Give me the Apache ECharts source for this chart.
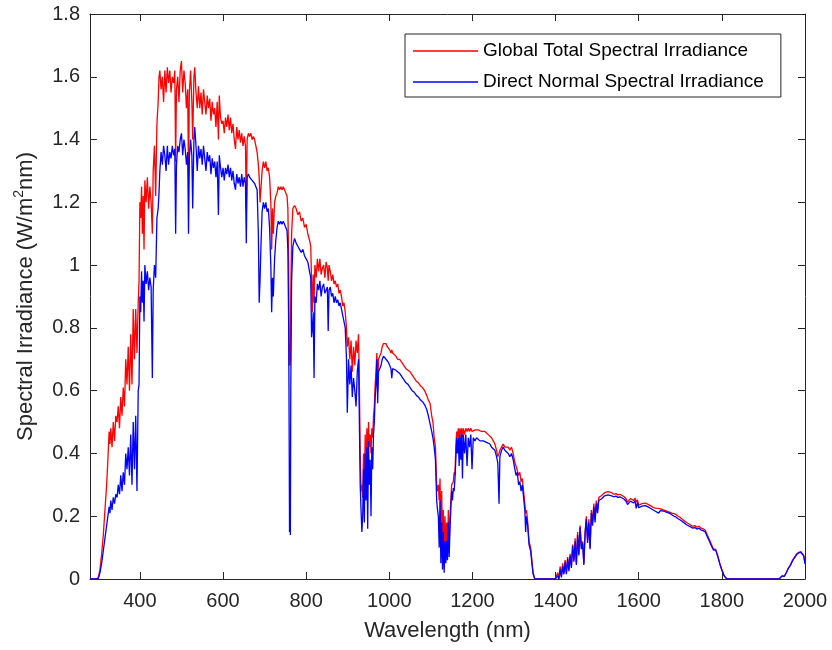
<!DOCTYPE html>
<html>
<head>
<meta charset="utf-8">
<script src="https://cdn.jsdelivr.net/npm/echarts@6/dist/echarts.min.js"></script>
<style>html,body{margin:0;padding:0;background:#fff}#c{width:832px;height:650px}</style>
</head>
<body>
<div id="c"></div>
<script>
// Wavelength (nm)
const wavelengths = [
280,290,295,300,304,308,312,316,320,323,
326,328,330,333,336,339,342,345,348,351,
354,357,360,363,366,369,372,375,378,381,
384,387,390,393,396,398,400,402,404,406,
408,410,412,415,418,421,424,427,430,432,
435,438,441,444,446,448,451,454,457,460,
463,466,469,472,475,478,481,484,486,488,
491,494,497,500,503,506,509,512,515,517,
519,522,525,527,530,532,535,538,541,544,
547,550,553,556,559,562,565,568,571,574,
577,580,583,586,589,591,594,597,600,603,
606,609,612,615,618,621,624,627,630,633,
636,639,642,645,648,651,654,656,658,661,
664,667,670,673,676,679,682,685,687,689,
691,694,697,700,703,706,709,712,715,717,
719,721,724,727,730,733,736,739,742,745,
748,751,754,756,758,759,760,761,762,763,
765,768,772,776,780,784,788,792,796,800,
804,808,811,813,815,817,819,821,824,827,
830,833,836,839,842,845,848,851,853,855,
858,861,864,867,870,873,876,879,882,885,
888,891,894,897,899,902,905,908,911,914,
917,920,923,926,928,930,932,934,936,938,
940,942,944,946,948,950,952,954,956,958,
960,962,964,966,968,970,972,974,977,980,
983,986,989,992,995,998,1001,1004,1006,1008,
1012,1016,1020,1025,1030,1035,1040,1045,1050,1055,
1060,1065,1070,1075,1080,1085,1090,1094,1098,1102,
1105,1108,1111,1114,1116,1118,1120,1122,1124,1126,
1128,1130,1132,1134,1136,1138,1140,1142,1144,1146,
1148,1150,1152,1154,1156,1158,1160,1162,1164,1166,
1168,1170,1172,1174,1176,1178,1181,1184,1187,1190,
1193,1196,1199,1202,1206,1210,1214,1218,1222,1226,
1230,1234,1238,1242,1246,1250,1254,1258,1261,1264,
1266,1270,1274,1278,1282,1286,1290,1294,1298,1302,
1305,1308,1311,1314,1317,1320,1323,1326,1328,1330,
1333,1336,1340,1343,1346,1350,1390,1400,1405,1408,
1411,1414,1417,1420,1423,1426,1429,1432,1435,1438,
1441,1444,1447,1450,1453,1456,1459,1462,1465,1468,
1471,1474,1477,1480,1483,1486,1489,1492,1495,1498,
1501,1504,1507,1510,1514,1518,1522,1526,1530,1535,
1540,1545,1550,1555,1560,1565,1570,1573,1576,1580,
1584,1588,1591,1594,1597,1600,1604,1608,1612,1616,
1620,1625,1630,1635,1640,1644,1648,1652,1656,1660,
1664,1668,1672,1676,1680,1685,1690,1695,1700,1705,
1710,1715,1720,1725,1730,1735,1740,1745,1750,1755,
1760,1765,1770,1775,1780,1785,1790,1795,1800,1805,
1810,1815,1935,1940,1945,1950,1955,1960,1965,1970,
1975,1980,1985,1990,1994,1997,2000
];

// Global Total Spectral Irradiance (W/m^2 nm)
const globalTotal = [
0,0,0,0.005,0.03,0.08,0.14,0.22,0.30,0.38,
0.47,0.43,0.48,0.42,0.50,0.44,0.52,0.50,0.55,0.48,
0.58,0.52,0.61,0.55,0.70,0.62,0.74,0.60,0.78,0.62,
0.86,0.70,0.86,0.72,0.88,0.95,1.20,1.15,1.25,1.10,
1.22,1.05,1.27,1.20,1.28,1.18,1.25,1.20,1.10,1.30,
1.38,1.22,1.45,1.52,1.60,1.62,1.56,1.60,1.52,1.62,
1.55,1.63,1.58,1.62,1.55,1.60,1.58,1.62,1.33,1.56,
1.60,1.52,1.62,1.65,1.55,1.62,1.58,1.50,1.56,1.28,
1.55,1.62,1.52,1.40,1.60,1.63,1.55,1.50,1.57,1.50,
1.55,1.48,1.56,1.52,1.48,1.54,1.50,1.53,1.46,1.52,
1.48,1.50,1.44,1.52,1.40,1.54,1.47,1.45,1.46,1.42,
1.47,1.44,1.48,1.43,1.47,1.42,1.45,1.40,1.37,1.44,
1.40,1.43,1.39,1.42,1.38,1.41,1.38,1.18,1.40,1.42,
1.41,1.42,1.40,1.41,1.40,1.38,1.36,1.32,1.28,1.20,
1.20,1.30,1.33,1.31,1.33,1.30,1.31,1.28,1.20,1.05,
1.18,1.10,1.20,1.22,1.23,1.25,1.24,1.25,1.24,1.25,
1.24,1.23,1.22,1.18,1.00,0.68,0.75,0.68,0.70,0.90,
1.10,1.18,1.19,1.18,1.16,1.17,1.14,1.15,1.12,1.13,
1.10,1.08,1.06,0.95,0.85,0.97,0.88,1.00,0.96,1.02,
0.98,1.02,0.97,0.99,1.00,0.96,1.01,0.99,0.95,1.00,
0.98,0.95,0.97,0.94,0.95,0.93,0.94,0.91,0.92,0.90,
0.87,0.88,0.85,0.80,0.74,0.77,0.70,0.76,0.66,0.74,
0.68,0.76,0.72,0.78,0.62,0.40,0.28,0.30,0.26,0.40,
0.30,0.46,0.32,0.48,0.38,0.50,0.42,0.46,0.40,0.48,
0.45,0.52,0.55,0.62,0.66,0.72,0.60,0.70,0.70,0.72,
0.74,0.75,0.745,0.75,0.74,0.74,0.73,0.72,0.73,0.72,
0.72,0.71,0.70,0.70,0.69,0.68,0.67,0.665,0.66,0.65,
0.64,0.63,0.625,0.615,0.61,0.60,0.585,0.57,0.56,0.52,
0.50,0.45,0.42,0.30,0.28,0.30,0.25,0.32,0.15,0.28,
0.10,0.22,0.07,0.20,0.10,0.18,0.08,0.22,0.10,0.20,
0.25,0.30,0.30,0.31,0.34,0.33,0.42,0.47,0.45,0.48,
0.44,0.48,0.46,0.48,0.45,0.48,0.46,0.48,0.47,0.48,
0.47,0.48,0.47,0.47,0.475,0.47,0.475,0.47,0.47,0.475,
0.47,0.465,0.46,0.455,0.45,0.44,0.43,0.41,0.39,0.40,
0.41,0.42,0.43,0.42,0.425,0.42,0.41,0.42,0.40,0.37,
0.36,0.36,0.33,0.34,0.31,0.32,0.28,0.24,0.21,0.22,
0.18,0.12,0.10,0.06,0.02,0,0,0.002,0.02,0,
0.04,0.01,0.05,0.02,0.06,0.02,0.07,0.03,0.08,0.04,
0.11,0.06,0.13,0.05,0.15,0.08,0.17,0.10,0.12,0.05,
0.15,0.20,0.12,0.19,0.10,0.22,0.18,0.24,0.19,0.25,
0.22,0.26,0.255,0.265,0.26,0.275,0.27,0.278,0.272,0.275,
0.27,0.272,0.268,0.27,0.266,0.262,0.255,0.245,0.25,0.256,
0.26,0.25,0.258,0.245,0.252,0.235,0.232,0.24,0.245,0.242,
0.24,0.236,0.232,0.228,0.226,0.228,0.225,0.226,0.222,0.224,
0.218,0.22,0.214,0.216,0.21,0.208,0.205,0.20,0.196,0.19,
0.185,0.18,0.176,0.172,0.168,0.17,0.165,0.168,0.162,0.16,
0.155,0.14,0.125,0.11,0.095,0.095,0.075,0.05,0.03,0.012,
0.003,0,0,0.003,0.01,0.008,0.02,0.035,0.045,0.06,
0.07,0.08,0.085,0.087,0.085,0.075,0.05
];

// Direct Normal Spectral Irradiance (W/m^2 nm)
const directNormal = [
0,0,0,0.002,0.02,0.05,0.09,0.13,0.17,0.20,
0.23,0.21,0.25,0.22,0.26,0.24,0.27,0.26,0.30,0.27,
0.33,0.28,0.34,0.30,0.40,0.35,0.42,0.33,0.46,0.30,
0.50,0.35,0.52,0.28,0.60,0.62,0.90,0.85,0.98,0.88,
0.95,0.82,1.00,0.94,0.98,0.92,0.96,0.93,0.64,0.92,
1.00,0.96,1.15,1.18,1.23,1.30,1.36,1.32,1.38,1.35,
1.30,1.38,1.32,1.36,1.34,1.38,1.35,1.37,1.10,1.32,
1.38,1.36,1.40,1.42,1.35,1.40,1.37,1.32,1.36,1.10,
1.34,1.40,1.35,1.18,1.40,1.44,1.38,1.30,1.38,1.34,
1.37,1.32,1.38,1.34,1.30,1.36,1.33,1.35,1.29,1.34,
1.31,1.33,1.28,1.33,1.16,1.35,1.31,1.28,1.31,1.27,
1.31,1.29,1.32,1.28,1.31,1.27,1.30,1.26,1.24,1.29,
1.26,1.28,1.25,1.29,1.25,1.28,1.26,1.07,1.28,1.29,
1.28,1.28,1.27,1.27,1.26,1.25,1.24,1.10,0.88,0.95,
1.05,1.17,1.20,1.18,1.20,1.17,1.18,1.12,1.00,0.85,
0.96,0.90,1.02,1.08,1.12,1.14,1.13,1.14,1.13,1.14,
1.13,1.12,1.11,1.05,0.80,0.50,0.15,0.30,0.14,0.60,
0.95,1.06,1.085,1.07,1.06,1.05,1.04,1.05,1.03,1.02,
1.01,0.98,0.96,0.77,0.80,0.85,0.64,0.90,0.88,0.94,
0.92,0.95,0.90,0.93,0.94,0.91,0.92,0.93,0.79,0.92,
0.93,0.90,0.91,0.88,0.90,0.88,0.89,0.87,0.88,0.86,
0.84,0.84,0.80,0.70,0.53,0.70,0.62,0.68,0.58,0.64,
0.60,0.55,0.66,0.70,0.50,0.30,0.22,0.15,0.20,0.35,
0.18,0.40,0.25,0.42,0.16,0.44,0.30,0.38,0.20,0.42,
0.35,0.46,0.50,0.58,0.62,0.70,0.56,0.66,0.67,0.68,
0.70,0.71,0.71,0.70,0.70,0.69,0.68,0.67,0.64,0.67,
0.67,0.665,0.66,0.655,0.645,0.635,0.625,0.62,0.61,0.60,
0.595,0.585,0.58,0.57,0.565,0.555,0.54,0.52,0.52,0.47,
0.45,0.42,0.38,0.25,0.22,0.20,0.10,0.25,0.05,0.18,
0.03,0.15,0.02,0.12,0.05,0.12,0.06,0.18,0.07,0.16,
0.22,0.28,0.25,0.29,0.28,0.32,0.38,0.45,0.40,0.45,
0.36,0.46,0.38,0.46,0.32,0.46,0.40,0.46,0.36,0.45,
0.42,0.46,0.35,0.45,0.44,0.45,0.445,0.44,0.445,0.44,
0.44,0.435,0.43,0.43,0.42,0.415,0.41,0.39,0.37,0.24,
0.39,0.41,0.42,0.41,0.41,0.40,0.39,0.40,0.38,0.35,
0.33,0.34,0.30,0.31,0.28,0.30,0.26,0.22,0.15,0.20,
0.17,0.11,0.09,0.05,0.015,0,0,0.001,0.01,0,
0.03,0.005,0.04,0.015,0.055,0.015,0.065,0.025,0.075,0.035,
0.105,0.055,0.12,0.045,0.14,0.075,0.165,0.095,0.115,0.045,
0.145,0.19,0.115,0.18,0.095,0.21,0.17,0.23,0.18,0.24,
0.21,0.25,0.245,0.255,0.25,0.265,0.26,0.268,0.262,0.265,
0.262,0.264,0.26,0.262,0.258,0.254,0.247,0.237,0.242,0.248,
0.252,0.242,0.25,0.225,0.244,0.227,0.224,0.232,0.237,0.234,
0.232,0.228,0.224,0.22,0.216,0.22,0.21,0.218,0.214,0.216,
0.21,0.212,0.206,0.208,0.202,0.20,0.197,0.192,0.188,0.183,
0.178,0.173,0.169,0.166,0.162,0.164,0.159,0.162,0.156,0.154,
0.15,0.135,0.12,0.105,0.092,0.092,0.072,0.048,0.028,0.011,
0.003,0,0,0.003,0.01,0.008,0.02,0.034,0.044,0.058,
0.068,0.078,0.083,0.085,0.083,0.073,0.048
];

const xTicks = [400, 600, 800, 1000, 1200, 1400, 1600, 1800, 2000];
const yTicks = [0, 0.2, 0.4, 0.6, 0.8, 1, 1.2, 1.4, 1.6, 1.8];
const seriesNames = ['Global Total Spectral Irradiance', 'Direct Normal Spectral Irradiance'];

const FONT = '"Liberation Sans", Arial, Helvetica, sans-serif';
const AX = '#262626';

const gData = wavelengths.map((w, i) => [w, globalTotal[i]]);
const dData = wavelengths.map((w, i) => [w, directNormal[i]]);

const chart = echarts.init(document.getElementById('c'), null, {renderer: 'canvas'});

const baseX = {
  type: 'value', min: 280, max: 2000,
  axisLine: {show: true, onZero: false, lineStyle: {color: AX, width: 1}},
  axisTick: {show: true, inside: true, length: 7, customValues: xTicks, lineStyle: {color: AX}},
  splitLine: {show: false}
};
const baseY = {
  type: 'value', min: 0, max: 1.8, interval: 0.2,
  axisLine: {show: true, onZero: false, lineStyle: {color: AX, width: 1}},
  axisTick: {show: true, inside: true, length: 7, lineStyle: {color: AX}},
  splitLine: {show: false}
};

chart.setOption({
  animation: false,
  backgroundColor: '#fff',
  grid: {left: 90, right: 27, top: 14, bottom: 71, containLabel: false},
  legend: {
    data: seriesNames.map(n => ({name: n, icon: 'rect'})),
    orient: 'vertical',
    left: 405, top: 34,
    padding: [6, 17, 4, 8],
    itemGap: 9,
    itemWidth: 65, itemHeight: 1.3,
    borderColor: AX, borderWidth: 1,
    backgroundColor: '#fff',
    textStyle: {fontFamily: FONT, fontSize: 19, color: '#000', lineHeight: 22}
  },
  xAxis: [
    Object.assign({}, baseX, {
      position: 'bottom',
      name: 'Wavelength (nm)', nameLocation: 'middle', nameGap: 41,
      nameTextStyle: {fontFamily: FONT, fontSize: 22, color: AX},
      axisLabel: {show: true, customValues: xTicks, fontFamily: FONT, fontSize: 20, color: AX, margin: 12,
        formatter: v => String(Math.round(v))}
    }),
    Object.assign({}, baseX, {position: 'top', axisLabel: {show: false}})
  ],
  yAxis: [
    Object.assign({}, baseY, {
      position: 'left',
      name: '{m|Spectral Irradiance (W/m}{sup|2}{m|nm)}', nameLocation: 'middle', nameGap: 50,
      nameTextStyle: {
        fontFamily: FONT, fontSize: 22, color: AX,
        rich: {
          m: {fontFamily: FONT, fontSize: 22, color: AX, lineHeight: 28},
          sup: {fontFamily: FONT, fontSize: 14, color: AX, verticalAlign: 'top', lineHeight: 14}
        }
      },
      axisLabel: {show: true, fontFamily: FONT, fontSize: 20, color: AX, margin: 10,
        formatter: v => String(parseFloat(v.toFixed(1)))}
    }),
    Object.assign({}, baseY, {position: 'right', axisLabel: {show: false}})
  ],
  series: [
    {name: seriesNames[0], type: 'line', data: gData, showSymbol: false, symbol: 'none',
     lineStyle: {color: '#ff0000', width: 1.3}, itemStyle: {color: '#ff0000'}, z: 2},
    {name: seriesNames[1], type: 'line', data: dData, showSymbol: false, symbol: 'none',
     lineStyle: {color: '#0000ff', width: 1.3}, itemStyle: {color: '#0000ff'}, z: 3}
  ]
});
</script>
</body>
</html>
